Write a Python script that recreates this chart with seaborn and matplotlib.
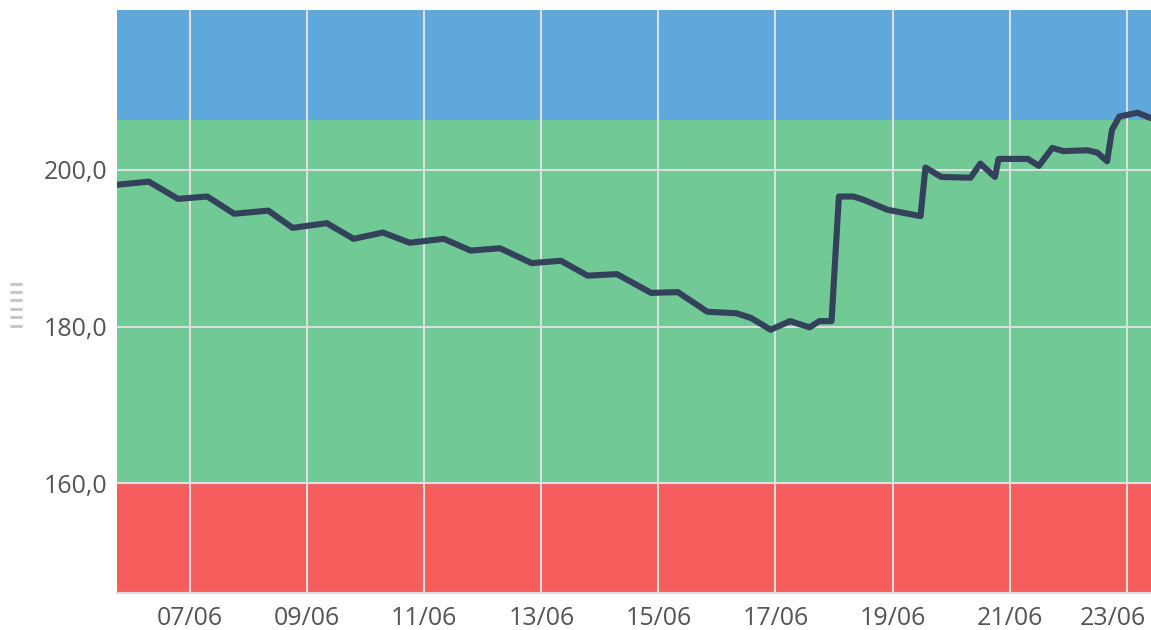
import pandas as pd
import seaborn as sns
import matplotlib.pyplot as plt
import matplotlib.dates as mdates
from matplotlib.transforms import ScaledTranslation

# readings (time, value)
times = [
    '2023-06-05 18:00', '2023-06-06 07:00', '2023-06-06 19:00', '2023-06-07 07:00',
    '2023-06-07 18:00', '2023-06-08 08:00', '2023-06-08 18:00', '2023-06-09 08:00',
    '2023-06-09 19:00', '2023-06-10 07:00', '2023-06-10 18:00', '2023-06-11 08:00',
    '2023-06-11 19:00', '2023-06-12 07:00', '2023-06-12 20:00', '2023-06-13 08:00',
    '2023-06-13 19:00', '2023-06-14 07:00', '2023-06-14 21:00', '2023-06-15 08:00',
    '2023-06-15 20:00', '2023-06-16 08:00', '2023-06-16 14:00', '2023-06-16 22:00',
    '2023-06-17 06:00', '2023-06-17 14:00', '2023-06-17 18:00', '2023-06-17 23:00',
    '2023-06-18 02:00', '2023-06-18 08:00', '2023-06-18 12:00', '2023-06-18 22:00',
    '2023-06-19 11:30', '2023-06-19 13:30', '2023-06-19 20:00', '2023-06-20 08:00',
    '2023-06-20 12:00', '2023-06-20 18:00', '2023-06-20 19:30', '2023-06-21 07:30',
    '2023-06-21 12:00', '2023-06-21 17:30', '2023-06-21 22:00', '2023-06-22 08:00',
    '2023-06-22 12:00', '2023-06-22 16:00', '2023-06-22 18:00', '2023-06-22 21:00',
    '2023-06-23 04:30', '2023-06-23 10:00',
]
values = [
    198.1, 198.5, 196.3, 196.6, 194.4, 194.8, 192.6, 193.2,
    191.2, 192.0, 190.7, 191.2, 189.7, 190.0, 188.1, 188.4,
    186.5, 186.7, 184.3, 184.4, 181.9, 181.7, 181.1, 179.6,
    180.7, 179.9, 180.7, 180.7, 196.6, 196.6, 196.2, 194.9,
    194.1, 200.3, 199.1, 199.0, 200.8, 199.1, 201.4, 201.4,
    200.5, 202.8, 202.4, 202.5, 202.2, 201.1, 205.1, 206.8,
    207.3, 206.6,
]

# target ranges
low_limit = 160.0
high_limit = 206.4
y_min, y_max = 146.0, 220.4
y_ticks = [160, 180, 200]

df = pd.DataFrame({'time': pd.to_datetime(times), 'value': values})

sns.set_style('white')
plt.rcParams['font.family'] = ['Open Sans', 'DejaVu Sans']

fig = plt.figure(figsize=(11.51, 6.30), dpi=100)
ax = fig.add_axes([0.1017, 0.0587, 0.8983, 0.9254])

ax.axhspan(y_min, low_limit, color='#f65e5e', zorder=-1, lw=0)
ax.axhspan(low_limit, high_limit, color='#71c996', zorder=-1, lw=0)
ax.axhspan(high_limit, y_max, color='#5fa8dc', zorder=-1, lw=0)

sns.lineplot(data=df, x='time', y='value', color='#33425a', linewidth=4.4,
             solid_joinstyle='round', solid_capstyle='round', ax=ax, zorder=3)

ax.set_xlim(pd.Timestamp('2023-06-05 18:00'), pd.Timestamp('2023-06-23 10:00'))
ax.set_ylim(y_min, y_max)
ax.set_yticks(y_ticks)
ax.set_yticklabels([f'{v:.1f}'.replace('.', ',') for v in y_ticks])
ax.xaxis.set_major_locator(mdates.DayLocator(bymonthday=range(1, 32, 2)))
ax.xaxis.set_major_formatter(mdates.DateFormatter('%d/%m'))

ax.grid(True, color='#dedede', linewidth=1.5)
ax.set_axisbelow(True)
ax.set_xlabel('')
ax.set_ylabel('')
ax.tick_params(axis='both', length=0, labelsize=18, labelcolor='#555555')
ax.tick_params(axis='y', pad=7)
ax.tick_params(axis='x', pad=9)
for side in ['top', 'right', 'left']:
    ax.spines[side].set_visible(False)
ax.spines['bottom'].set_color('#dddddd')
ax.spines['bottom'].set_linewidth(1.5)

# keep the last date label inside the figure
fig.canvas.draw()
last = ax.get_xticklabels()[-1]
last.set_transform(last.get_transform() + ScaledTranslation(-10 / 72, 0, fig.dpi_scale_trans))

# small axis handle on the left
for i in range(6):
    y = 1 - (283.5 + i * 8.4) / 630
    fig.add_artist(plt.Line2D([11 / 1151, 21 / 1151], [y, y], lw=2.2, color='#c8c8c8'))

plt.savefig('out.png', dpi=100)
plt.close()
